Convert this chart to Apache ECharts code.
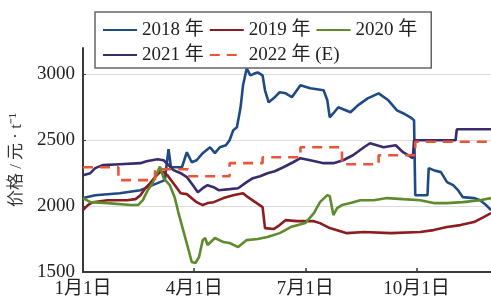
<!DOCTYPE html>
<html>
<head>
<meta charset="utf-8">
<script src="https://cdn.jsdelivr.net/npm/echarts@6/dist/echarts.min.js"></script>
<style>
html,body{margin:0;padding:0;background:#fff;}
#chart{width:491px;height:302px;}
</style>
</head>
<body>
<div id="chart"></div>
<script>
// ---- data (day of year from 1 Jan, price in 元/t) ----
const seriesNames = ['2018 年', '2019 年', '2020 年', '2021 年', '2022 年 (E)'];

const days2018 = [0,10,30,47,55,63,67,70,72,81,85,89,93,98,104,108,112,117,120,123,126,129,131,134,137,141,143,147,149,152,156,161,166,171,178,186,197,200,202,205,209,219,225,233,242,250,257,262,268,271,272,282,283,287,293,298,303,307,311,320,325,330,334];
const price2018 = [2061,2083,2098,2121,2152,2182,2197,2432,2295,2295,2409,2333,2348,2402,2447,2402,2447,2462,2500,2576,2598,2750,2917,3045,2992,3008,3015,2992,2879,2788,2818,2864,2856,2826,2917,2894,2879,2803,2674,2705,2750,2712,2765,2818,2856,2803,2727,2705,2674,2652,2083,2083,2288,2273,2258,2182,2159,2121,2068,2061,2045,2008,1970];

const days2019 = [0,4,8,20,36,43,47,51,55,59,63,66,69,74,80,85,93,98,102,107,115,123,131,135,141,147,149,156,161,166,175,189,194,202,216,230,252,276,287,298,309,320,328,334];
const price2019 = [1970,2008,2030,2045,2045,2053,2083,2136,2174,2220,2258,2258,2235,2174,2098,2091,2030,2008,2023,2030,2061,2083,2098,2068,2030,1992,1833,1826,1856,1894,1886,1886,1871,1833,1795,1803,1795,1803,1818,1841,1856,1879,1917,1947];

const days2020 = [0,6,20,39,45,49,53,57,59,61,63,66,71,75,78,82,86,89,92,95,98,100,102,108,115,120,127,134,143,151,161,170,182,189,194,200,202,205,208,212,219,227,238,249,262,276,287,298,311,325,334];
const price2020 = [2061,2030,2023,2008,2008,2045,2121,2174,2220,2258,2300,2212,2160,2068,1955,1818,1682,1576,1568,1614,1742,1758,1705,1758,1727,1720,1689,1742,1750,1765,1795,1841,1871,1947,2030,2083,2076,1932,1985,2008,2023,2045,2045,2061,2053,2045,2023,2023,2030,2045,2061];

const days2021 = [0,6,10,16,30,47,52,61,66,70,74,80,85,90,94,98,102,107,111,120,127,134,139,145,151,157,164,172,178,186,197,205,213,221,230,235,246,256,262,270,271,305,306,334];
const price2021 = [2235,2250,2288,2311,2318,2326,2341,2356,2348,2311,2273,2250,2220,2159,2106,2136,2159,2144,2121,2129,2136,2182,2212,2227,2250,2265,2295,2333,2364,2348,2326,2326,2348,2386,2447,2477,2447,2462,2409,2364,2500,2500,2583,2583];

const days2022 = [0,29,59,86,120,147,178,212,242,272,334];
const price2022 = [2295,2197,2280,2227,2326,2371,2447,2318,2386,2488,2488];

const tickDays = [0, 91, 182, 273];
const tickLabels = ['1月1日', '4月1日', '7月1日', '10月1日'];
const yTicks = [1500, 2000, 2500, 3000];

// ---- build ----
function pairs(d, v) { return d.map((x, i) => [x, v[i]]); }
const colors = ['#1f4b82', '#8c1c1f', '#5e8b2b', '#3a2c6a', '#ea5438'];
const allDays = [days2018, days2019, days2020, days2021, days2022];
const allPrices = [price2018, price2019, price2020, price2021, price2022];
const FONT = "'Liberation Serif', 'Noto Sans CJK SC', serif";

const series = seriesNames.map((name, i) => ({
  name: name,
  type: 'line',
  data: pairs(allDays[i], allPrices[i]),
  symbol: 'none',
  step: i === 4 ? 'end' : false,
  lineStyle: {
    color: colors[i],
    width: 2.6,
    type: i === 4 ? [10, 7] : 'solid'
  },
  itemStyle: { color: colors[i] },
  z: 2 + i,
  animation: false
}));

const chart = echarts.init(document.getElementById('chart'), null, { renderer: 'canvas' });
chart.setOption({
  animation: false,
  backgroundColor: '#fff',
  grid: { left: 83, right: 0, top: 48, bottom: 30 },
  legend: {
    data: seriesNames,
    left: 95, top: 12, width: 330,
    itemWidth: 34, itemHeight: 14, itemGap: 5,
    padding: [8, 14, 3, 7],
    backgroundColor: '#fff',
    borderColor: '#666', borderWidth: 1.5,
    itemStyle: { opacity: 0, borderWidth: 0 },
    textStyle: { fontFamily: FONT, fontSize: 19, color: '#222', lineHeight: 20 }
  },
  xAxis: {
    type: 'value', min: 0, max: 334, interval: 91,
    axisLine: { lineStyle: { color: '#3a3a3a', width: 2 } },
    axisTick: { inside: true, length: 4, lineStyle: { color: '#3a3a3a', width: 1.5 } },
    splitLine: { show: false },
    axisLabel: {
      margin: 8, color: '#222', fontFamily: FONT, fontSize: 19,
      showMaxLabel: false,
      formatter: function (v) { const k = tickDays.indexOf(v); return k >= 0 ? tickLabels[k] : ''; }
    }
  },
  yAxis: {
    type: 'value', min: 1500, max: 3200, interval: 500,
    name: '价格 / 元 · t⁻¹', nameLocation: 'middle', nameGap: 58, nameRotate: 90,
    nameTextStyle: { fontFamily: FONT, fontSize: 17, color: '#333' },
    axisLine: { show: true, lineStyle: { color: '#3a3a3a', width: 2 } },
    axisTick: { show: true, inside: true, length: 3, lineStyle: { color: '#3a3a3a' } },
    splitLine: { show: true, lineStyle: { color: ['#dcdcdc', '#dcdcdc', '#dcdcdc', '#dcdcdc', 'rgba(0,0,0,0)'], width: 1 } },
    axisLabel: {
      margin: 8, color: '#222', fontFamily: FONT, fontSize: 19,
      showMaxLabel: false,
      formatter: function (v) { return yTicks.indexOf(v) >= 0 ? String(v) : ''; }
    }
  },
  series: series
});
</script>
</body>
</html>
